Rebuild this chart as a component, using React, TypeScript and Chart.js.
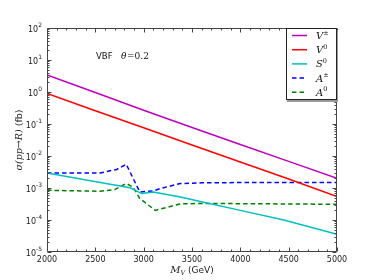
import React, { useEffect, useRef } from "react";
import { Chart, registerables } from "chart.js";
Chart.register(...registerables);

// ---- data ----
const massV = [2000, 2500, 3000, 3500, 4000, 4500, 5000];
const sigmaVpm = [3.4, 0.96, 0.27, 0.078, 0.023, 0.0068, 0.002];
const sigmaV0 = [0.9, 0.26, 0.076, 0.022, 0.0065, 0.0019, 0.00054];
const massS0 = [2000, 2420, 2860, 2980, 3100, 3380, 3620, 4000, 4450, 5000];
const sigmaS0 = [2.95e-3, 1.74e-3, 1.02e-3, 6.7e-4, 7.5e-4, 5.2e-4, 3.6e-4, 2.0e-4, 1.0e-4, 3.6e-5];
const massApm = [2000, 2550, 2720, 2820, 2960, 3100, 3170, 3380, 3600, 4000, 5000];
const sigmaApm = [2.95e-3, 2.95e-3, 3.8e-3, 5.5e-3, 7.5e-4, 8.1e-4, 9.6e-4, 1.38e-3, 1.45e-3, 1.48e-3, 1.48e-3];
const massA0 = [2000, 2550, 2700, 2820, 2890, 2960, 3120, 3380, 3600, 5000];
const sigmaA0 = [8.5e-4, 7.9e-4, 8.9e-4, 1.38e-3, 1.07e-3, 4.7e-4, 2.0e-4, 3.2e-4, 3.3e-4, 3.1e-4];

const xTicks = [2000, 2500, 3000, 3500, 4000, 4500, 5000];
const yExponents = [-5, -4, -3, -2, -1, 0, 1, 2];

const legendItems = [
  { base: "V", sup: "±", color: "#bf00bf", dash: [] as number[] },
  { base: "V", sup: "0", color: "#ff0000", dash: [] as number[] },
  { base: "S", sup: "0", color: "#00bfbf", dash: [] as number[] },
  { base: "A", sup: "±", color: "#0000ff", dash: [4.5, 3] },
  { base: "A", sup: "0", color: "#008000", dash: [4.5, 3] },
];

const SANS = "'DejaVu Sans', sans-serif";
const SERIF = "'DejaVu Serif', serif";

const toPts = (xs: number[], ys: number[]) => xs.map((x, i) => ({ x, y: ys[i] }));

const decor = {
  id: "decor",
  afterDraw(chart: any) {
    const { ctx, chartArea: a, scales } = chart;
    const xs = scales.x;
    const ys = scales.y;
    ctx.save();
    const L = Math.round(a.left) + 0.5;
    const R = Math.round(a.right) - 0.5;
    const T = Math.round(a.top) + 0.5;
    const B = Math.round(a.bottom) - 0.5;
    ctx.strokeStyle = "#444";
    ctx.lineWidth = 1;
    ctx.beginPath();
    ctx.rect(L, T, R - L, B - T);
    ctx.stroke();

    // x ticks
    ctx.beginPath();
    for (let v = 2000; v <= 5000; v += 100) {
      const px = Math.round(xs.getPixelForValue(v)) + 0.5;
      const len = v % 500 === 0 ? 4 : 2;
      ctx.moveTo(px, B);
      ctx.lineTo(px, B - len);
      ctx.moveTo(px, T);
      ctx.lineTo(px, T + len);
    }
    // y ticks
    for (let e = -5; e <= 2; e++) {
      for (let m = 1; m <= 9; m++) {
        const v = m * Math.pow(10, e);
        if (v > 100.0001) continue;
        const py = Math.round(ys.getPixelForValue(v)) + 0.5;
        const len = m === 1 ? 4 : 2;
        ctx.moveTo(L, py);
        ctx.lineTo(L + len, py);
        ctx.moveTo(R, py);
        ctx.lineTo(R - len, py);
      }
    }
    ctx.stroke();

    ctx.fillStyle = "#222";
    // x tick labels
    ctx.font = `8px ${SANS}`;
    ctx.textAlign = "center";
    ctx.textBaseline = "alphabetic";
    xTicks.forEach((v) => {
      ctx.fillText(String(v), xs.getPixelForValue(v), a.bottom + 10);
    });
    // y tick labels
    yExponents.forEach((e) => {
      const py = ys.getPixelForValue(Math.pow(10, e));
      const sup = e < 0 ? "-" + Math.abs(e) : String(e);
      ctx.font = `6px ${SANS}`;
      const sw = ctx.measureText(sup).width;
      ctx.textAlign = "left";
      const right = a.left - 5;
      ctx.fillText(sup, right - sw, py - 1);
      ctx.font = `8px ${SANS}`;
      ctx.textAlign = "right";
      ctx.fillText("10", right - sw, py + 4);
    });

    // x axis title
    {
      ctx.textAlign = "left";
      const cx = (a.left + a.right) / 2;
      const base = 273;
      ctx.font = `italic 10px ${SERIF}`;
      const wM = ctx.measureText("M").width;
      ctx.font = `italic 6.5px ${SERIF}`;
      const wV = ctx.measureText("V").width;
      ctx.font = `9px ${SANS}`;
      const wG = ctx.measureText(" (GeV)").width;
      let x0 = cx - (wM + wV + wG) / 2;
      ctx.font = `italic 10px ${SERIF}`;
      ctx.fillText("M", x0, base);
      x0 += wM;
      ctx.font = `italic 6.5px ${SERIF}`;
      ctx.fillText("V", x0, base + 2);
      x0 += wV;
      ctx.font = `9px ${SANS}`;
      ctx.fillText(" (GeV)", x0, base);
    }

    // y axis title
    {
      ctx.save();
      ctx.translate(22, (a.top + a.bottom) / 2);
      ctx.rotate(-Math.PI / 2);
      ctx.textAlign = "left";
      ctx.font = `italic 9.5px ${SERIF}`;
      const p1 = "σ(pp→R)";
      const w1 = ctx.measureText(p1).width;
      ctx.font = `9.5px ${SANS}`;
      const p2 = " (fb)";
      const w2 = ctx.measureText(p2).width;
      let x0 = -(w1 + w2) / 2;
      ctx.font = `italic 9.5px ${SERIF}`;
      ctx.fillText(p1, x0, 0);
      ctx.font = `9.5px ${SANS}`;
      ctx.fillText(p2, x0 + w1, 0);
      ctx.restore();
    }

    // annotation
    ctx.textAlign = "left";
    ctx.fillStyle = "#111";
    ctx.font = `8.5px ${SANS}`;
    ctx.fillText("VBF", 96, 59);
    ctx.font = `italic 9px ${SERIF}`;
    ctx.fillText("θ", 121, 59);
    ctx.font = `9px ${SERIF}`;
    ctx.fillText("=0.2", 127, 59);

    // legend
    {
      const lx = 286;
      const ly = Math.round(a.top);
      const lw = Math.round(a.right) - lx;
      const lh = 72;
      ctx.fillStyle = "#9a9a9a";
      ctx.fillRect(lx + 1, ly + 2, lw, lh);
      ctx.fillStyle = "#fff";
      ctx.fillRect(lx, ly, lw, lh);
      ctx.strokeStyle = "#222";
      ctx.lineWidth = 1;
      ctx.strokeRect(lx + 0.5, ly + 0.5, lw - 1, lh - 1);
      legendItems.forEach((it, i) => {
        const yy = ly + 7.5 + i * 14.2;
        ctx.strokeStyle = it.color;
        ctx.lineWidth = 1.5;
        ctx.setLineDash(it.dash);
        ctx.beginPath();
        ctx.moveTo(292, yy);
        ctx.lineTo(307, yy);
        ctx.stroke();
        ctx.setLineDash([]);
        ctx.fillStyle = "#111";
        ctx.font = `italic 10px ${SERIF}`;
        ctx.fillText(it.base, 316, yy + 3.5);
        const w = ctx.measureText(it.base).width;
        ctx.font = `6.5px ${SERIF}`;
        ctx.fillText(it.sup, 316 + w, yy - 1);
      });
    }
    ctx.restore();
  },
};

export default function App() {
  const ref = useRef<HTMLCanvasElement | null>(null);
  useEffect(() => {
    if (!ref.current) return;
    const mk = (xs: number[], ys: number[], color: string, dash: number[]) => ({
      data: toPts(xs, ys),
      borderColor: color,
      backgroundColor: color,
      borderWidth: 1.5,
      borderDash: dash,
      pointRadius: 0,
      tension: 0,
      fill: false,
    });
    const chart = new Chart(ref.current, {
      type: "line",
      data: {
        datasets: [
          mk(massV, sigmaVpm, legendItems[0].color, []),
          mk(massV, sigmaV0, legendItems[1].color, []),
          mk(massS0, sigmaS0, legendItems[2].color, []),
          mk(massApm, sigmaApm, legendItems[3].color, legendItems[3].dash),
          mk(massA0, sigmaA0, legendItems[4].color, legendItems[4].dash),
        ] as any,
      },
      options: {
        animation: false,
        responsive: false,
        maintainAspectRatio: false,
        layout: { padding: { left: 47, right: 37, top: 28, bottom: 28 } },
        plugins: { legend: { display: false }, tooltip: { enabled: false } },
        scales: {
          x: {
            type: "linear",
            min: 2000,
            max: 5000,
            ticks: { display: false },
            grid: { display: false, drawTicks: false },
            border: { display: false },
          },
          y: {
            type: "logarithmic",
            min: 1e-5,
            max: 1e2,
            ticks: { display: false },
            grid: { display: false, drawTicks: false },
            border: { display: false },
          },
        },
      },
      plugins: [decor],
    });
    return () => chart.destroy();
  }, []);
  return (
    <div style={{ position: "fixed", left: 0, top: 0, width: 374, height: 280, background: "#fff" }}>
      <canvas ref={ref} width={374} height={280} style={{ width: 374, height: 280 }} />
    </div>
  );
}
